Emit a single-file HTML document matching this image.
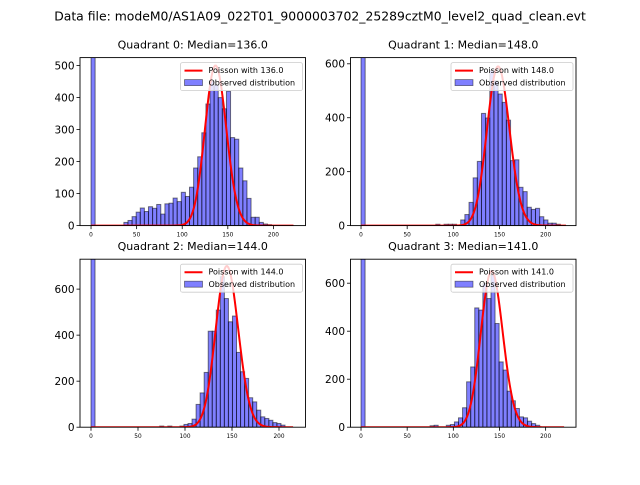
<!DOCTYPE html>
<html><head><meta charset="utf-8"><style>
body{margin:0;background:#fff;}
svg{font-family:"DejaVu Sans","Liberation Sans",sans-serif;}
</style></head><body>
<svg id="fig" width="640" height="480" viewBox="0 0 640 480">
<rect width="640" height="480" fill="#fff"/>
<text x="320" y="20.5" text-anchor="middle" font-size="12.4">Data file: modeM0/AS1A09_022T01_9000003702_25289cztM0_level2_quad_clean.evt</text>
</svg>
<script>
const titles=["Quadrant 0: Median=136.0","Quadrant 1: Median=148.0","Quadrant 2: Median=144.0","Quadrant 3: Median=141.0"];
const medians=[136.0,148.0,144.0,141.0];
const peakHeights=[500,590,700,650];
const binWidths=[4.5,4.5,4.3,4.4];
const yTicks=[[0,100,200,300,400,500],[0,200,400,600],[0,200,400,600],[0,200,400,600]];
const xTicks=[0,50,100,150,200];
const curveMax=[222,222,215,220];
const xLims=[[-12.1,235.2],[-11.4,232.9],[-11.7,228.2],[-11.4,232.9]];
const yMax=[525,623,730,700];
// counts per bin: [binIndex,count]
const q0Counts=[[0,2000],[8,10],[9,16],[10,28],[11,42],[12,55],[13,44],[14,59],[15,54],[16,66],[17,36],[18,68],[19,70],[20,86],[21,75],[22,104],[23,91],[24,120],[25,180],[26,215],[27,290],[28,380],[29,450],[30,440],[31,400],[32,365],[33,420],[34,275],[35,270],[36,180],[37,140],[38,85],[39,26],[40,26],[41,10],[42,5],[43,3]];
const q1Counts=[[0,2000],[18,5],[20,5],[21,5],[22,5],[24,21],[25,41],[26,86],[27,177],[28,238],[29,416],[30,399],[31,574],[32,537],[33,488],[34,457],[35,391],[36,241],[37,244],[38,142],[39,126],[40,68],[41,60],[42,64],[43,33],[44,21],[45,9],[46,9],[47,5]];
const q2Counts=[[0,2000],[17,5],[19,5],[22,5],[23,12],[24,16],[25,35],[26,99],[27,149],[28,238],[29,417],[30,417],[31,509],[32,654],[33,559],[34,458],[35,483],[36,325],[37,241],[38,212],[39,128],[40,110],[41,74],[42,45],[43,38],[44,30],[45,20],[46,16],[47,9]];
const q3Counts=[[0,2000],[17,6],[18,8],[21,8],[22,11],[23,22],[24,39],[25,81],[26,189],[27,251],[28,497],[29,488],[30,599],[31,536],[32,633],[33,432],[34,272],[35,238],[36,150],[37,110],[38,78],[39,43],[40,39],[41,25],[42,15],[43,8]];
const allCounts=[q0Counts,q1Counts,q2Counts,q3Counts];

const NS="http://www.w3.org/2000/svg";
const svg=document.getElementById('fig');
function mk(tag,attrs,parent){const e=document.createElementNS(NS,tag);for(const k in attrs)e.setAttribute(k,attrs[k]);(parent||svg).appendChild(e);return e;}
function lgamma(n){ if(n<1) return 0; return n*Math.log(n)-n+0.5*Math.log(2*Math.PI/n)+1/(12*n);}
const W=225.5,H=168;
const lefts=[80,350.5,80,350.5],tops=[57.6,57.6,259.2,259.2];
for(let p=0;p<4;p++){
  const L=lefts[p],T=tops[p];
  const [x0,x1]=xLims[p];
  const xs=v=>L+(v-x0)/(x1-x0)*W;
  const ys=v=>T+H-v/yMax[p]*H;
  const g=mk('g',{});
  
  
  const cid='clip'+p;
  const cp=mk('clipPath',{id:cid},g);mk('rect',{x:L,y:T,width:W,height:H},cp);
  const t=mk('text',{x:L+W/2,y:T-9,'text-anchor':'middle','font-size':'11'},g);
  t.textContent=titles[p];
  
  
  const bars=mk('g',{'clip-path':'url(#'+cid+')'},g);
  const bw=binWidths[p];
  allCounts[p].forEach(([i,c])=>{
    const xa=xs(i*bw),xb=xs((i+1)*bw);
    const r=mk('rect',{x:xa,y:ys(c),width:xb-xa,height:ys(0)-ys(c),fill:'rgba(0,0,255,0.5)',stroke:'rgba(0,0,0,0.5)','stroke-width':'1'},bars);
    
    
  });
  const mu=medians[p];
  const lp=k=>k*Math.log(mu)-mu-lgamma(k);
  const peak=lp(Math.floor(mu));
  let d='';
  for(let k=0;k<=curveMax[p];k++){
    const v=peakHeights[p]*Math.exp(lp(k)-peak);
    d+=(k?'L':'M')+xs(k).toFixed(2)+' '+ys(v).toFixed(2);
  }
  const pl=mk('path',{d:d,fill:'none',stroke:'#ff0000','stroke-width':'2','clip-path':'url(#'+cid+')'},g);
  
  
  const fr=mk('rect',{x:L,y:T,width:W,height:H,fill:'none',stroke:'#000','stroke-width':'0.9'},g);
  
  
  yTicks[p].forEach(v=>{
    const y=ys(v);
    mk('line',{x1:L-3.5,x2:L,y1:y,y2:y,stroke:'#000','stroke-width':'0.8'},g);
    const tl=mk('text',{x:L-5.5,y:y+3.8,'text-anchor':'end','font-size':'10.5'},g);
    tl.textContent=v;
    
    
  });
  xTicks.forEach(v=>{
    const x=xs(v);
    mk('line',{x1:x,x2:x,y1:T+H,y2:T+H+3.5,stroke:'#000','stroke-width':'0.8'},g);
    const tl=mk('text',{x:x,y:T+H+11,'text-anchor':'middle','font-size':'5.8'},g);
    tl.textContent=v;
    
    
  });
  const lg=mk('g',{},g);
  
  
  const lx=L+W-125,ly=T+5;
  mk('rect',{x:lx,y:ly,width:122,height:28,rx:2,fill:'rgba(255,255,255,0.8)',stroke:'#ccc','stroke-width':'0.8'},lg);
  mk('line',{x1:lx+4,x2:lx+22,y1:ly+8,y2:ly+8,stroke:'#ff0000','stroke-width':'2'},lg);
  const t1=mk('text',{x:lx+28,y:ly+10.5,'font-size':'8'},lg);t1.textContent='Poisson with '+mu.toFixed(1);
  
  
  mk('rect',{x:lx+4,y:ly+17,width:18,height:6,fill:'rgba(0,0,255,0.5)',stroke:'rgba(0,0,0,0.5)','stroke-width':'0.8'},lg);
  const t2=mk('text',{x:lx+28,y:ly+23,'font-size':'8'},lg);t2.textContent='Observed distribution';
  
  
}
</script>
</body></html>
